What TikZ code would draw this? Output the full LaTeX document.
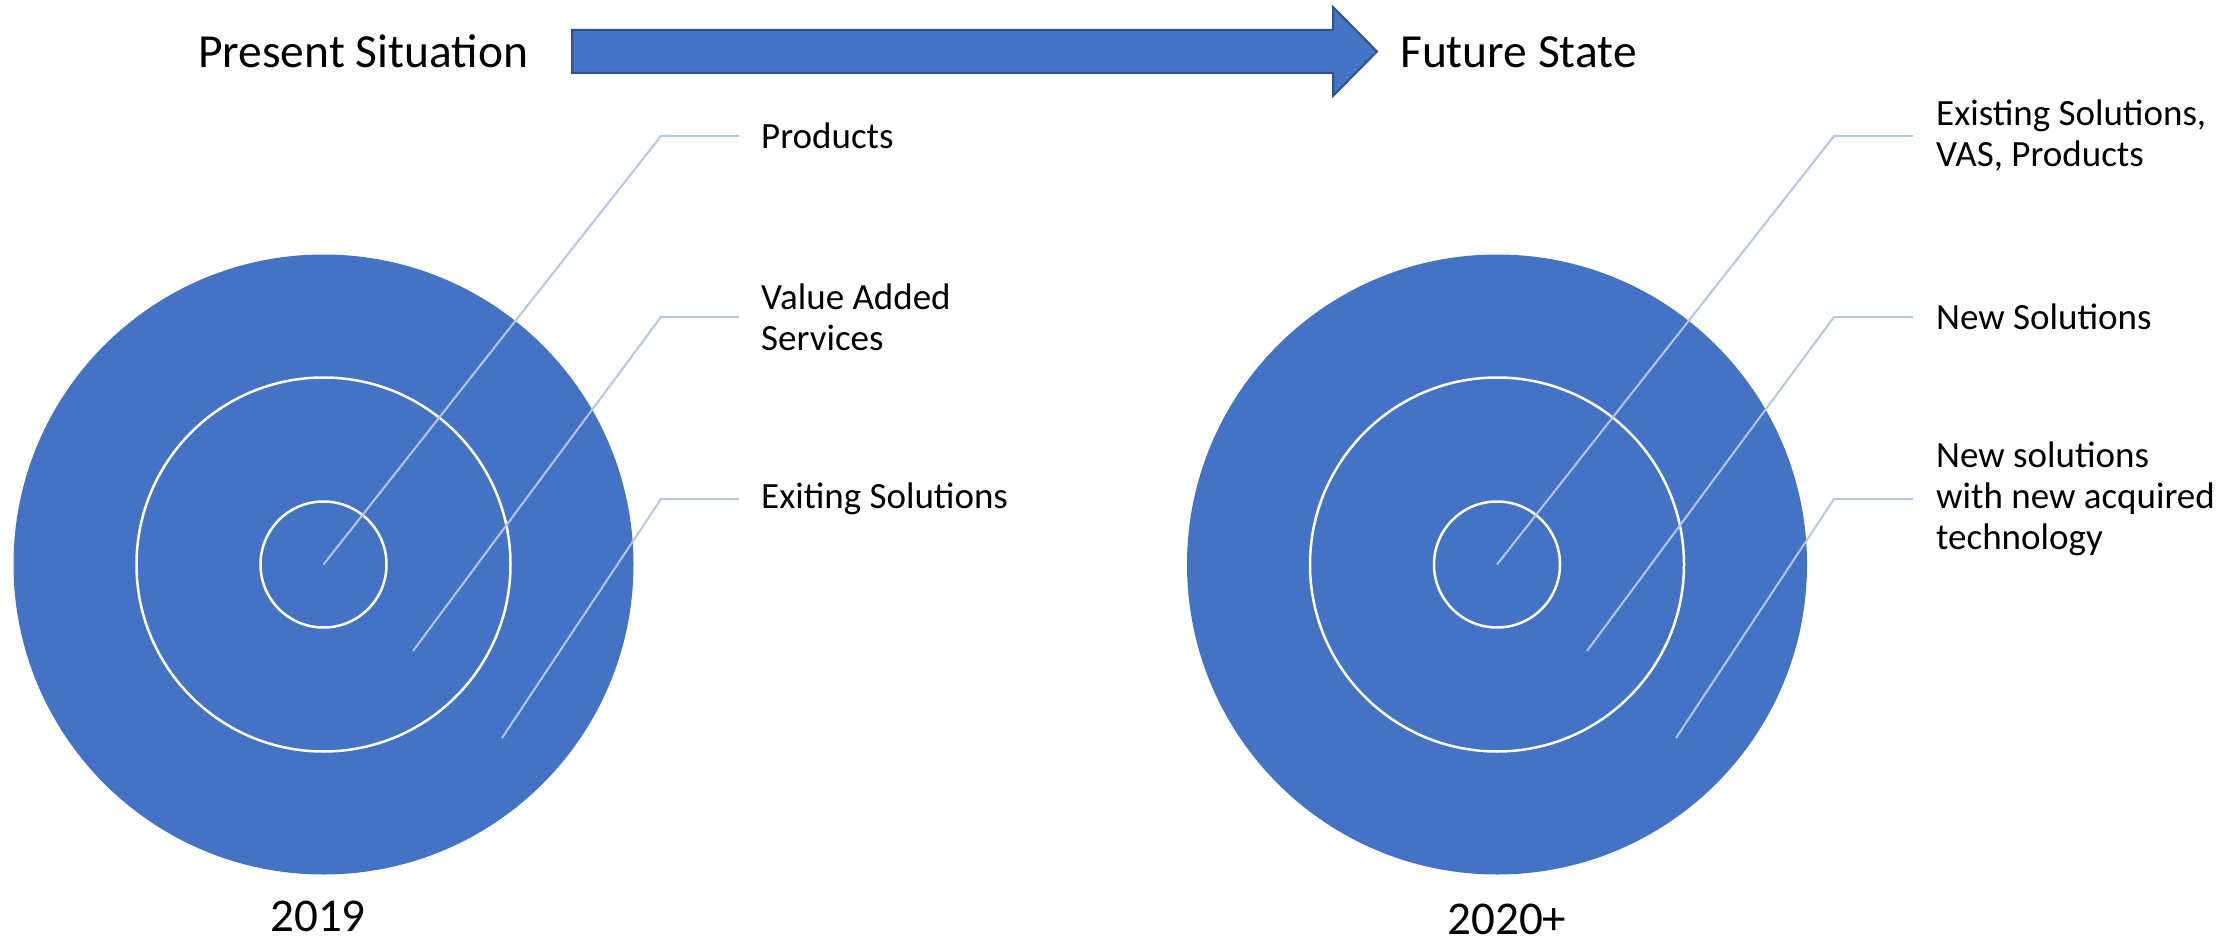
\documentclass[tikz,border=0pt]{standalone}
\usepackage{fontspec}
\setmainfont{Carlito}
\definecolor{accblue}{HTML}{4472C4}
\definecolor{arrowedge}{HTML}{2F528F}
\definecolor{leadercol}{HTML}{B4C7E7}
\begin{document}
\begin{tikzpicture}[x=1pt,y=-1pt,
  bigdisc/.style={circle,fill=accblue,draw=none,minimum size=620pt,inner sep=0pt},
  ringline/.style={circle,draw=white,line width=2.5pt,inner sep=0pt},
  leader/.style={draw=leadercol,line width=2pt},
  lbl/.style={anchor=west,inner sep=0pt,align=left,font=\fontsize{37}{41}\selectfont},
  ttl/.style={anchor=base west,inner sep=0pt,font=\fontsize{47.5}{50}\selectfont},
  yr/.style={inner sep=0pt,font=\fontsize{47}{50}\selectfont},
  bigarrow/.style={fill=accblue,draw=arrowedge,line width=2pt,line join=miter}]
\useasboundingbox (0,0) rectangle (2239,944);
% titles and arrow
\node[ttl] (present) at (198,68) {Present Situation};
\node[ttl] (future) at (1400,68) {Future State};
\draw[bigarrow] (572,30) -- (1333,30) -- (1333,7) -- (1377,51.5) -- (1333,96) -- (1333,73) -- (572,73) -- cycle;
% left target
\node[bigdisc] (L1) at (323.5,564.5) {};
\node[ringline,minimum size=374pt] (L2) at (323.5,564.5) {};
\node[ringline,minimum size=126pt] (L3) at (323.5,564.5) {};
\coordinate (Lc) at (323.5,564.5);
\coordinate (Lm) at (413,651);
\coordinate (Lo) at (502,738);
\node[lbl] (Lt1) at (761,136) {Products};
\node[lbl] (Lt2) at (761,317) {Value Added\\Services};
\node[lbl] (Lt3) at (761,499) {Exiting Solutions};
\draw[leader] (Lc) -- (661,136) -- ([xshift=-22pt]Lt1.west);
\draw[leader] (Lm) -- (661,317) -- ([xshift=-22pt]Lt2.west);
\draw[leader] (Lo) -- (661,499) -- ([xshift=-22pt]Lt3.west);
\node[yr] (y2019) at (318,916) {2019};
% right target
\node[bigdisc] (R1) at (1497,564.5) {};
\node[ringline,minimum size=374pt] (R2) at (1497,564.5) {};
\node[ringline,minimum size=126pt] (R3) at (1497,564.5) {};
\coordinate (Rc) at (1497,564.5);
\coordinate (Rm) at (1587,651);
\coordinate (Ro) at (1676,738);
\node[lbl] (Rt1) at (1936,136) {Existing Solutions,\\VAS, Products};
\node[lbl] (Rt2) at (1936,317) {New Solutions};
\node[lbl] (Rt3) at (1936,499) {New solutions\\with new acquired\\technology};
\draw[leader] (Rc) -- (1834,136) -- ([xshift=-23pt]Rt1.west);
\draw[leader] (Rm) -- (1834,317) -- ([xshift=-23pt]Rt2.west);
\draw[leader] (Ro) -- (1834,499) -- ([xshift=-23pt]Rt3.west);
\node[yr] (y2020) at (1507,919) {2020+};
\end{tikzpicture}
\end{document}
